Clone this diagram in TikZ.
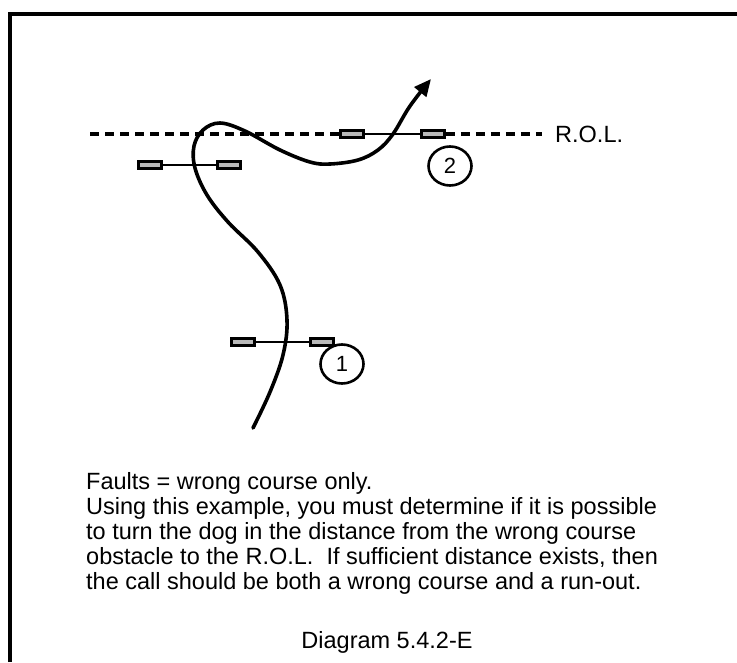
\documentclass[tikz,border=0pt]{standalone}
\usepackage{fontspec}
\setmainfont{Liberation Sans}
\usetikzlibrary{arrows.meta,positioning,shapes.geometric}
\definecolor{bargray}{RGB}{185,185,185}

\begin{document}
\begin{tikzpicture}[
    x=1pt, y=-1pt,
    bar/.style={rectangle, draw, line width=2.8pt, fill=bargray, minimum width=23pt, minimum height=6.5pt, inner sep=0pt},
    pole/.style={line width=2.6pt},
    num/.style={ellipse, draw, line width=2.6pt, minimum width=43pt, minimum height=39pt, inner sep=0pt, font=\fontsize{22}{22}\selectfont},
    note/.style={anchor=base west, inner sep=0pt, font=\fontsize{23.5}{25}\selectfont},
    path/.style={line width=3.6pt, line cap=round, -{Triangle[length=17pt, width=15pt]}}
]
    \useasboundingbox (0,0) rectangle (737,662);

    % Frame
    \draw[line width=3.4pt] (10,662) -- (10,14) -- (737,14);

    % Run-out line with obstacle 2
    \coordinate (rolstart) at (90,134);
    \coordinate (rolend) at (542,134);
    \node[bar] (o2a) at (352,134) {};
    \node[bar] (o2b) at (433,134) {};
    \draw[line width=3.2pt, dash pattern=on 9pt off 6pt] (rolstart) -- (o2a.west);
    \draw[line width=3.2pt, dash pattern=on 9pt off 6pt] (o2b.east) -- (rolend);
    \draw[pole] (o2a) -- (o2b);
    \node[note] (rol) at (555,142) {R.O.L.};
    \node[num] (n2) at (450,166) {2};

    % Wrong course obstacle
    \node[bar] (o3a) at (150,165) {};
    \node[bar] (o3b) at (229,165) {};
    \draw[pole] (o3a) -- (o3b);

    % Obstacle 1
    \node[bar] (o1a) at (243,342) {};
    \node[bar] (o1b) at (322,342) {};
    \draw[pole] (o1a) -- (o1b);
    \node[num] (n1) at (342,364) {1};

    % Dog path
    \draw[path] plot[smooth, tension=0.6] coordinates {
        (253,428) (270,392) (283,355) (287,320) (280,285) (258,252) (228,222)
        (207,195) (195,168) (194,146) (203,130) (220,123) (245,131) (280,150)
        (310,162) (330,164) (358,160) (378,150) (393,134) (410,106) (431,79)};

    % Text
    \foreach \txt [count=\i] in {
        {Faults = wrong course only.},
        {Using this example, you must determine if it is possible},
        {to turn the dog in the distance from the wrong course},
        {obstacle to the R.O.L.\ \ If sufficient distance exists, then},
        {the call should be both a wrong course and a run-out.}}
        \node[note] (line\i) at (86, 489+25*\i-25) {\txt};
    \node[note, anchor=base] (caption) at (387,648) {Diagram 5.4.2-E};
\end{tikzpicture}
\end{document}
